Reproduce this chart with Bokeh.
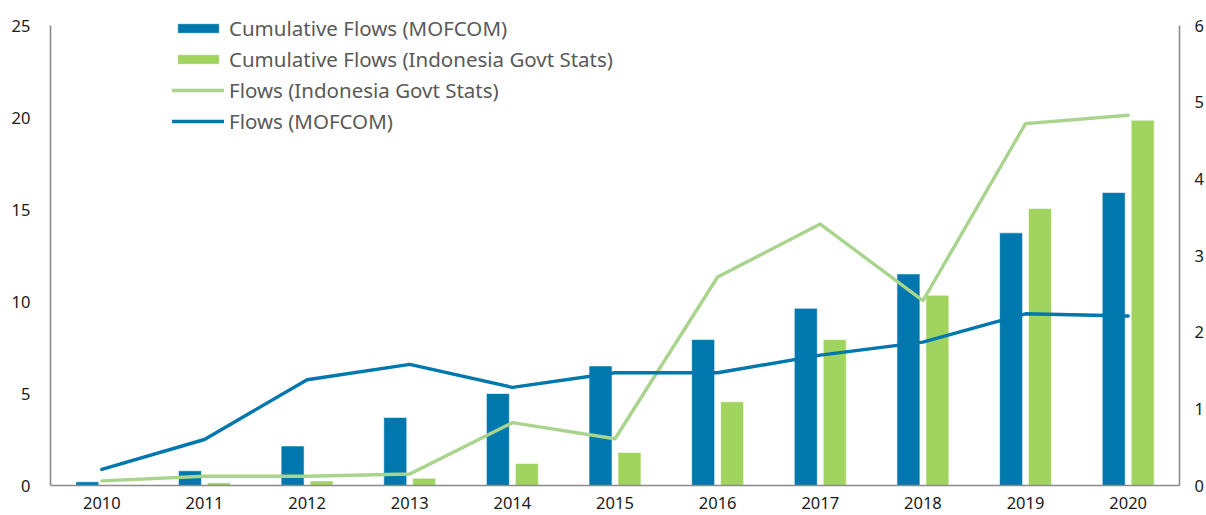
from bokeh.plotting import figure
from bokeh.models import (Range1d, LinearAxis, ColumnDataSource, Legend, LegendItem,
                          FactorRange, FixedTicker)
from bokeh.transform import dodge
from bokeh.embed import file_html
from bokeh.resources import INLINE

years = ["2010", "2011", "2012", "2013", "2014", "2015", "2016", "2017", "2018", "2019", "2020"]
cum_mofcom = [0.2, 0.8, 2.15, 3.7, 5.0, 6.5, 7.93, 9.63, 11.5, 13.73, 15.92]
cum_indo = [0.02, 0.15, 0.25, 0.4, 1.2, 1.8, 4.55, 7.93, 10.34, 15.05, 19.85]
flows_indo = [0.06, 0.12, 0.12, 0.15, 0.82, 0.61, 2.72, 3.41, 2.41, 4.72, 4.83]
flows_mofcom = [0.21, 0.6, 1.38, 1.58, 1.28, 1.47, 1.47, 1.70, 1.87, 2.24, 2.21]
left_ticks = [0, 5, 10, 15, 20, 25]
right_ticks = [0, 1, 2, 3, 4, 5, 6]

BLUE = "#0077ad"
GREEN_BAR = "#a1d45e"
GREEN_LINE = "#a9d48e"
AXIS = "#8a8a8a"
FONT = "Noto Sans"

# frame extends a little above the top tick so the legend (which sits above the
# axis top) is not clipped; axis lines are bounded to the tick span.
FRAME_TOP = 5
AXIS_TOP = 25
FRAME_BOTTOM = 485
ext = (FRAME_BOTTOM - FRAME_TOP) / (FRAME_BOTTOM - AXIS_TOP)

src = ColumnDataSource(dict(year=years, cm=cum_mofcom, ci=cum_indo, fi=flows_indo, fm=flows_mofcom))

p = figure(x_range=FactorRange(*years, range_padding=0),
           y_range=Range1d(0, left_ticks[-1] * ext),
           width=1206, height=515, output_backend="svg", toolbar_location=None,
           min_border_left=50, min_border_right=25, min_border_top=FRAME_TOP, min_border_bottom=30)
p.extra_y_ranges = {"right": Range1d(0, right_ticks[-1] * ext)}
p.outline_line_color = None
p.xgrid.visible = False
p.ygrid.visible = False
p.background_fill_color = "white"

def style_axis(ax):
    ax.axis_line_color = AXIS
    ax.axis_line_width = 1.6
    ax.major_tick_line_color = None
    ax.minor_tick_line_color = None
    ax.major_tick_out = 0
    ax.major_tick_in = 0
    ax.minor_tick_out = 0
    ax.minor_tick_in = 0
    ax.major_label_text_font = FONT
    ax.major_label_text_font_size = "16.5px"
    ax.major_label_text_color = "#1a1a1a"

style_axis(p.xaxis[0])
p.xaxis[0].major_label_standoff = 11
style_axis(p.yaxis[0])
p.yaxis[0].ticker = FixedTicker(ticks=left_ticks)
p.yaxis[0].bounds = (left_ticks[0], left_ticks[-1])
p.yaxis[0].major_label_standoff = 20

ry = LinearAxis(y_range_name="right", ticker=FixedTicker(ticks=right_ticks),
                bounds=(right_ticks[0], right_ticks[-1]))
style_axis(ry)
ry.major_label_standoff = 15
p.add_layout(ry, "right")

r1 = p.vbar(x=dodge("year", -0.141, range=p.x_range), top="cm", width=0.224, source=src,
            fill_color=BLUE, line_color="white", line_width=0.6)
r2 = p.vbar(x=dodge("year", 0.141, range=p.x_range), top="ci", width=0.224, source=src,
            fill_color=GREEN_BAR, line_color="white", line_width=0.6)
r3 = p.line(x="year", y="fi", source=src, y_range_name="right", line_color=GREEN_LINE,
            line_width=3.4, line_join="round", line_cap="round")
r4 = p.line(x="year", y="fm", source=src, y_range_name="right", line_color=BLUE,
            line_width=3.4, line_join="round", line_cap="round")

legend = Legend(items=[
    LegendItem(label="Cumulative Flows (MOFCOM)", renderers=[r1]),
    LegendItem(label="Cumulative Flows (Indonesia Govt Stats)", renderers=[r2]),
    LegendItem(label="Flows (Indonesia Govt Stats)", renderers=[r3]),
    LegendItem(label="Flows (MOFCOM)", renderers=[r4]),
], location=(122, 350))
legend.border_line_color = None
legend.background_fill_alpha = 0
legend.padding = 0
legend.margin = 0
legend.glyph_width = 52
legend.glyph_height = 12
legend.label_height = 20
legend.spacing = 3
legend.label_standoff = 5
legend.label_text_font = FONT
legend.label_text_font_size = "20.5px"
legend.label_text_color = "#595959"
p.add_layout(legend, "center")

open("out.html", "w").write(file_html(p, INLINE))
